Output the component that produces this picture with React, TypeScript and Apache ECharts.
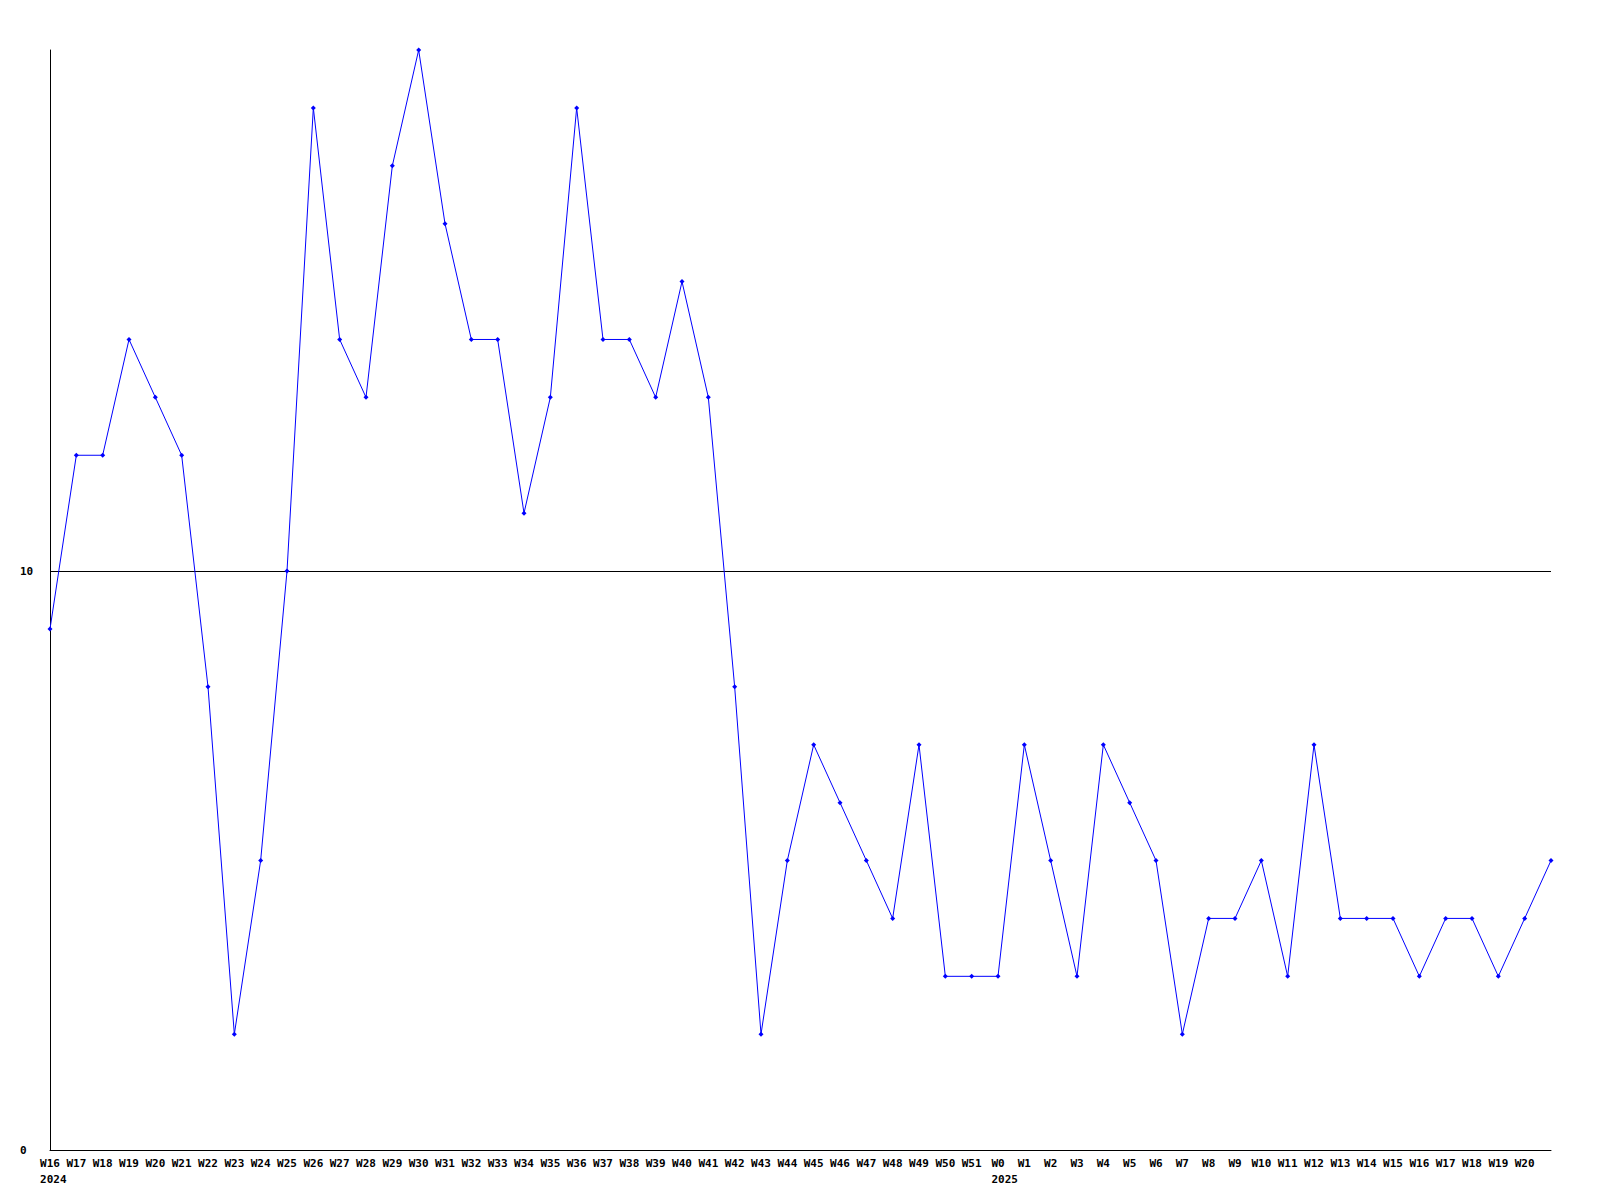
import React, { useEffect, useRef } from "react";
import * as echarts from "echarts";

const weeks: string[] = [
  "W16", "W17", "W18", "W19", "W20", "W21", "W22", "W23", "W24", "W25",
  "W26", "W27", "W28", "W29", "W30", "W31", "W32", "W33", "W34", "W35",
  "W36", "W37", "W38", "W39", "W40", "W41", "W42", "W43", "W44", "W45",
  "W46", "W47", "W48", "W49", "W50", "W51",
  "W0", "W1", "W2", "W3", "W4", "W5", "W6", "W7", "W8", "W9",
  "W10", "W11", "W12", "W13", "W14", "W15", "W16", "W17", "W18", "W19", "W20", "W21",
];

// year marker shown under the first week of each year
const yearMarks: Record<number, string> = { 0: "2024", 36: "2025" };

const values: number[] = [
  9, 12, 12, 14, 13, 12, 8, 2, 5, 10,
  18, 14, 13, 17, 19, 16, 14, 14, 11, 13,
  18, 14, 14, 13, 15, 13, 8, 2, 5, 7,
  6, 5, 4, 7, 3, 3,
  3, 7, 5, 3, 7, 6, 5, 2, 4, 4,
  5, 3, 7, 4, 4, 4, 3, 4, 4, 3, 4, 5,
];

const FONT = "'DejaVu Sans Mono', 'Liberation Mono', monospace";

export default function App() {
  const ref = useRef<HTMLDivElement>(null);
  useEffect(() => {
    if (!ref.current) return;
    const chart = echarts.init(ref.current, undefined, { renderer: "svg" });
    const last = weeks.length - 1;
    chart.setOption({
      animation: false,
      backgroundColor: "#ffffff",
      grid: { left: 50, top: 50, right: 49, bottom: 50, containLabel: false },
      xAxis: {
        type: "category",
        data: weeks,
        boundaryGap: false,
        axisLine: { show: true, lineStyle: { color: "#000", width: 1 } },
        axisTick: { show: false },
        splitLine: { show: false },
        axisLabel: {
          interval: 0,
          margin: 5,
          color: "#000",
          fontFamily: FONT,
          fontWeight: "bold",
          fontSize: 11,
          lineHeight: 16,
          formatter: (v: string, i: number) => {
            if (i === last) return "";
            return yearMarks[i] ? `{w|${v}}\n{y|${yearMarks[i]}}` : `{w|${v}}`;
          },
          rich: {
            w: { fontFamily: FONT, fontWeight: "bold", fontSize: 11, lineHeight: 16, color: "#000" },
            y: {
              fontFamily: FONT,
              fontWeight: "bold",
              fontSize: 11,
              lineHeight: 16,
              color: "#000",
              width: 1,
              align: "left",
            },
          },
        },
      },
      yAxis: {
        type: "value",
        min: 0,
        max: 19,
        interval: 10,
        axisLine: { show: true, lineStyle: { color: "#000", width: 1 } },
        axisTick: { show: false },
        splitLine: {
          show: true,
          showMinLine: false,
          showMaxLine: false,
          lineStyle: { color: "#000", width: 1 },
        },
        axisLabel: {
          showMaxLabel: false,
          align: "left",
          margin: 30,
          color: "#000",
          fontFamily: FONT,
          fontWeight: "bold",
          fontSize: 11,
        },
      },
      series: [
        {
          type: "line",
          data: values,
          symbol: "diamond",
          symbolSize: 5,
          showAllSymbol: true,
          lineStyle: { color: "#0000ff", width: 1 },
          itemStyle: { color: "#0000ff" },
        },
      ],
    });
    return () => chart.dispose();
  }, []);
  return (
    <div
      ref={ref}
      style={{ position: "absolute", left: 0, top: 0, width: 1600, height: 1200 }}
    />
  );
}
